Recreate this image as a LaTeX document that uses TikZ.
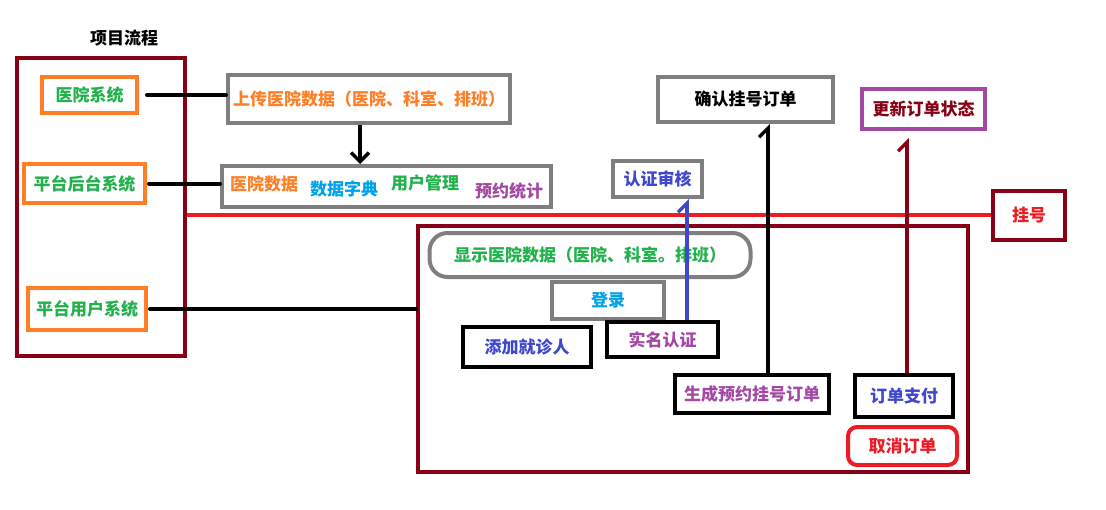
\documentclass[tikz,border=0pt]{standalone}
\usepackage{fontspec}
\setmainfont{Noto Sans CJK SC}
\usetikzlibrary{arrows.meta}
\definecolor{paintRed}{HTML}{ED1C24}
\definecolor{paintDark}{HTML}{880015}
\definecolor{paintOrange}{HTML}{FF7F27}
\definecolor{paintGreen}{HTML}{22B14C}
\definecolor{paintCyan}{HTML}{00A2E8}
\definecolor{paintBlue}{HTML}{3F48CC}
\definecolor{paintPurple}{HTML}{A349A4}
\definecolor{paintGray}{HTML}{7F7F7F}

\begin{document}
\begin{tikzpicture}[x=1pt, y=-1pt,
    every node/.style={font=\fontsize{17}{20}\selectfont\bfseries, inner sep=0pt},
    box/.style={draw, line width=4pt, fill=white},
    sysbox/.style={box, draw=paintOrange, text=paintGreen},
    graybox/.style={box, draw=paintGray},
    blackbox/.style={box, draw=black},
    frame/.style={draw=paintDark, line width=4pt},
    link/.style={line width=4pt, line cap=round},
    arrowdown/.style={line width=3.5pt, -{Straight Barb[length=9pt,width=18pt]}},
    arrowup/.style={line width=3.5pt, -{Straight Barb[left,length=9pt,width=18pt]}}
  ]
    \useasboundingbox (0,0) rectangle (1106,509);
    \node (title) at (124,38) {项目流程};
    % frames
    \node[frame, minimum width=168pt, minimum height=298pt] (sysframe) at (101,207) {};
    \node[frame, minimum width=550pt, minimum height=246pt] (appframe) at (693,349) {};
    % left column
    \node[sysbox, minimum width=95pt, minimum height=36pt] (hospital) at (89.5,95) {医院系统};
    \node[sysbox, minimum width=121pt, minimum height=39pt] (backend) at (84.5,183.5) {平台后台系统};
    \node[sysbox, minimum width=118pt, minimum height=42pt] (usersys) at (87,309) {平台用户系统};
    % hospital side
    \node[graybox, text=paintOrange, minimum width=282pt, minimum height=48pt] (upload) at (369,99) {上传医院数据（医院、科室、排班）};
    \node[graybox, minimum width=329pt, minimum height=41pt] (manage) at (386.5,186.5) {};
    \node[text=paintOrange] (hosdata) at (264,184) {医院数据};
    \node[text=paintCyan] (dict) at (344,189) {数据字典};
    \node[text=paintGreen] (usermgmt) at (425,183) {用户管理};
    \node[text=paintPurple] (stats) at (509,191) {预约统计};
    \node[box, draw=paintDark, text=paintRed, minimum width=72pt, minimum height=49pt] (register) at (1029,215) {挂号};
    % user side
    \node[graybox, rounded corners=18pt, text=paintGreen, minimum width=321pt, minimum height=44pt] (showdata) at (590,255) {显示医院数据（医院、科室。排班）};
    \node[graybox, text=paintCyan, minimum width=112pt, minimum height=37pt] (login) at (608,300.5) {登录};
    \node[blackbox, text=paintBlue, minimum width=128pt, minimum height=40pt] (patient) at (527,347) {添加就诊人};
    \node[blackbox, text=paintPurple, minimum width=111pt, minimum height=35pt] (realname) at (662.5,339.5) {实名认证};
    \node[graybox, text=paintBlue, minimum width=89pt, minimum height=36pt] (audit) at (657.5,179) {认证审核};
    \node[blackbox, text=paintPurple, minimum width=154pt, minimum height=38pt] (order) at (752,394) {生成预约挂号订单};
    \node[graybox, minimum width=175pt, minimum height=45pt] (confirm) at (745.5,99.5) {确认挂号订单};
    \node[blackbox, text=paintBlue, minimum width=98pt, minimum height=42pt] (pay) at (904,396) {订单支付};
    \node[box, draw=paintPurple, text=paintDark, minimum width=123pt, minimum height=40pt] (update) at (923.5,109) {更新订单状态};
    \node[box, draw=paintRed, rounded corners=9pt, text=paintRed, minimum width=109pt, minimum height=38pt] (cancel) at (902.5,446) {取消订单};
    % connectors
    \draw[link] ([xshift=8pt]hospital.east) -- (hospital.east -| upload.west);
    \draw[link] ([xshift=2pt]backend.east) -- (backend.east -| manage.west);
    \draw[link] ([xshift=2pt]usersys.east) -- (usersys.east -| appframe.west);
    \draw[paintRed, line width=3.5pt] (sysframe.east |- register.west) -- (register.west);
    \draw[arrowdown] ([xshift=-9pt]upload.south) -- ([xshift=-9pt]upload.south |- manage.north);
    \draw[arrowup, paintBlue] ([xshift=24.5pt]realname.north) -- ([xshift=24.5pt]realname.north |- audit.south);
    \draw[arrowup] ([xshift=16pt]order.north) -- ([xshift=16pt]order.north |- confirm.south);
    \draw[arrowup, paintDark, shorten >=7pt] ([xshift=3pt]pay.north) -- ([xshift=3pt]pay.north |- update.south);
  \end{tikzpicture}
\end{document}
